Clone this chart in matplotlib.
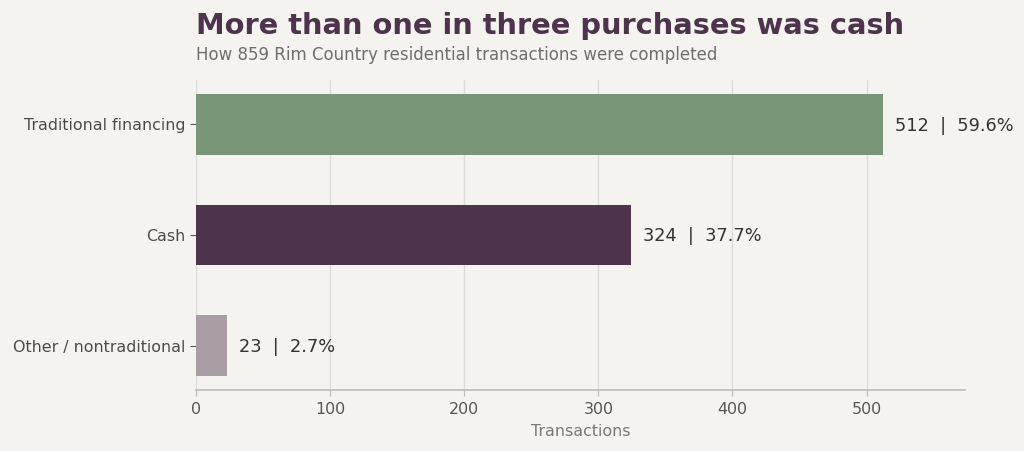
import matplotlib
matplotlib.use("Agg")
import matplotlib.pyplot as plt

categories = ["Traditional financing", "Cash", "Other / nontraditional"]
values = [512, 324, 23]
pct_labels = ["59.6%", "37.7%", "2.7%"]
colors = ["#7a9679", "#4d334c", "#a99ea6"]
xticks = [0, 100, 200, 300, 400, 500]

bg = "#f5f3ef"
fig = plt.figure(figsize=(10.24, 4.51), dpi=100, facecolor=bg)
ax = fig.add_axes([0.1914, 0.1353, 0.7510, 0.6873], facecolor=bg)

ypos = list(range(len(categories)))
ax.barh(ypos, values, height=0.55, color=colors, zorder=3)
ax.invert_yaxis()
ax.set_yticks(ypos)
ax.set_yticklabels(categories, fontsize=11.4, color="#4a4a4a")
ax.set_xticks(xticks)
ax.set_xticklabels([str(t) for t in xticks], fontsize=11.4, color="#555555")
ax.set_xlim(0, max(values) * 1.12)

for y, v, p in zip(ypos, values, pct_labels):
    ax.text(v + max(values) * 0.0175, y + 0.01, f"{v}  |  {p}", va="center", ha="left",
            fontsize=12.8, color="#333333", zorder=4)

ax.grid(axis="x", color="#dcdcd8", linewidth=1, zorder=0)
for s in ["top", "right", "left"]:
    ax.spines[s].set_visible(False)
ax.spines["bottom"].set_color("#bbbbbb")
ax.spines["bottom"].set_linewidth(1.2)
ax.tick_params(axis="y", length=4, color="#555555")
ax.tick_params(axis="x", length=4, color="#bbbbbb", pad=5)
ax.set_xlabel("Transactions", fontsize=11.4, color="#777777", labelpad=5)

fig.text(0.1914, 0.9246, "More than one in three purchases was cash", fontsize=20.8,
         fontweight="bold", color="#4d334c", ha="left", va="baseline")
fig.text(0.1914, 0.867, "How 859 Rim Country residential transactions were completed",
         fontsize=12, color="#6e6e6e", ha="left", va="baseline")

fig.savefig("out.png", dpi=100, facecolor=bg)
